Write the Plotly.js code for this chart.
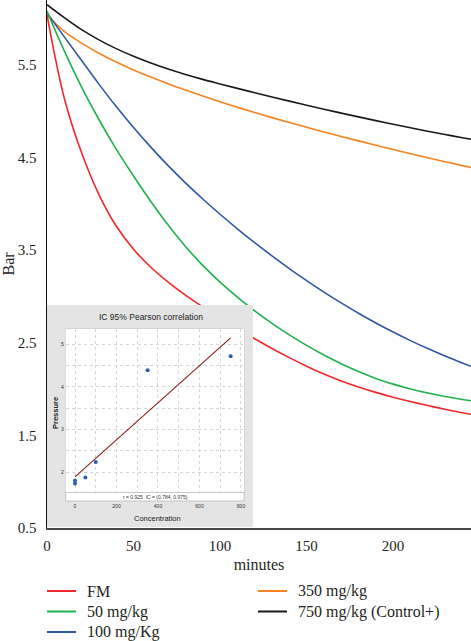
<!DOCTYPE html>
<html>
<head>
<meta charset="utf-8">
<script src="https://cdn.plot.ly/plotly-3.0.1.min.js"></script>
<style>
  html, body { margin: 0; padding: 0; background: #fff; }
  #chart { width: 471px; height: 641px; }
</style>
</head>
<body>
<div id="chart"></div>
<script>
// Pressure decay over time for each treatment group
const minutes = [0, 10, 20, 30, 40, 50, 60, 70, 80, 90, 100, 110, 120, 130, 140, 150, 160, 170, 180, 190, 200, 210, 220, 230, 240, 245];
const seriesNames = ['FM', '50 mg/kg', '100 mg/Kg', '350 mg/kg', '750 mg/kg (Control+)'];
const fm    = [6.04, 5.14, 4.55, 4.10, 3.76, 3.51, 3.315, 3.155, 3.015, 2.888, 2.768, 2.653, 2.543, 2.438, 2.339, 2.247, 2.162, 2.087, 2.022, 1.964, 1.912, 1.865, 1.822, 1.782, 1.745, 1.728];
const mg50  = [6.08, 5.65, 5.26, 4.91, 4.59, 4.30, 4.025, 3.77, 3.54, 3.335, 3.155, 2.992, 2.844, 2.709, 2.585, 2.471, 2.367, 2.273, 2.189, 2.115, 2.053, 2.001, 1.957, 1.92, 1.888, 1.873];
const mg100 = [6.06, 5.802, 5.546, 5.292, 5.05, 4.824, 4.612, 4.412, 4.226, 4.052, 3.887, 3.73, 3.58, 3.437, 3.301, 3.171, 3.047, 2.93, 2.818, 2.713, 2.615, 2.523, 2.437, 2.357, 2.282, 2.246];
const mg350 = [6.04, 5.86, 5.735, 5.625, 5.53, 5.445, 5.368, 5.296, 5.228, 5.163, 5.101, 5.042, 4.985, 4.93, 4.877, 4.826, 4.776, 4.727, 4.679, 4.632, 4.586, 4.541, 4.497, 4.454, 4.412, 4.391];
const mg750 = [6.15, 6.01, 5.88, 5.77, 5.675, 5.592, 5.519, 5.454, 5.396, 5.343, 5.294, 5.246, 5.199, 5.153, 5.108, 5.064, 5.021, 4.979, 4.938, 4.898, 4.859, 4.821, 4.784, 4.748, 4.713, 4.696];

const yTicks = [0.5, 1.5, 2.5, 3.5, 4.5, 5.5];
const xTicks = [0, 50, 100, 150, 200];

// Final pressure against concentration (Pearson correlation panel)
const concentration = [0, 0, 50, 100, 350, 750];
const pressure      = [1.74, 1.81, 1.88, 2.24, 4.39, 4.72];
const insetXTicks = [0, 200, 400, 600, 800];
const insetYTicks = [2, 3, 4, 5];

// least-squares fit line for the correlation panel
function linearFit(xs, ys) {
  const n = xs.length;
  const mx = xs.reduce((a, b) => a + b, 0) / n;
  const my = ys.reduce((a, b) => a + b, 0) / n;
  let sxy = 0, sxx = 0;
  for (let i = 0; i < n; i++) { sxy += (xs[i] - mx) * (ys[i] - my); sxx += (xs[i] - mx) ** 2; }
  const slope = sxy / sxx;
  return { slope, intercept: my - slope * mx };
}
const fit = linearFit(concentration, pressure);
const fitX = [Math.min(...concentration), Math.max(...concentration)];
const fitY = fitX.map(x => fit.intercept + fit.slope * x);

const serif = 'Liberation Serif, Times New Roman, serif';
const sans = 'Liberation Sans, Arial, sans-serif';
const colors = ['#f0282d', '#1fb14f', '#2f57a5', '#f7821f', '#1a1a1a'];
const values = [fm, mg50, mg100, mg350, mg750];

// paper coordinates measured from the main plot area (424 x 528 px, origin bottom-left at 47,528)
const px = v => (v - 47) / 424;
const py = v => (528 - v) / 528;

const traces = [];
// draw order: control first so treated curves sit above it
[4, 3, 2, 1, 0].forEach(i => {
  traces.push({
    x: minutes, y: values[i], name: seriesNames[i], type: 'scatter', mode: 'lines',
    line: { color: colors[i], width: 1.6, shape: 'spline', smoothing: 1 },
    showlegend: false, xaxis: 'x', yaxis: 'y', hoverinfo: 'skip'
  });
});

// panel backdrop (x2/y2 use a unit box spanning the inset frame)
const frame = { x0: 0, x1: 1, y0: 0, y1: 1 };
const plotBox = { x0: 0.0908, x1: 0.9563, y0: 0.117, y1: 0.892 };
const footerLine = 0.1577;
traces.push({
  x: [frame.x0, frame.x1, frame.x1, frame.x0, frame.x0],
  y: [frame.y0, frame.y0, frame.y1, frame.y1, frame.y0],
  type: 'scatter', mode: 'lines', fill: 'toself', fillcolor: '#e4e4e4',
  line: { width: 0, color: '#e4e4e4' }, showlegend: false, hoverinfo: 'skip',
  xaxis: 'x2', yaxis: 'y2'
});
traces.push({
  x: [plotBox.x0, plotBox.x1, plotBox.x1, plotBox.x0, plotBox.x0],
  y: [plotBox.y0, plotBox.y0, plotBox.y1, plotBox.y1, plotBox.y0],
  type: 'scatter', mode: 'lines', fill: 'toself', fillcolor: '#ffffff',
  line: { width: 1, color: '#c4c4c4' }, showlegend: false, hoverinfo: 'skip',
  xaxis: 'x2', yaxis: 'y2'
});
traces.push({
  x: [plotBox.x0, plotBox.x1], y: [footerLine, footerLine],
  type: 'scatter', mode: 'lines', line: { width: 1, color: '#8c8c8c' },
  showlegend: false, hoverinfo: 'skip', xaxis: 'x2', yaxis: 'y2'
});

// correlation panel data
traces.push({
  x: fitX, y: fitY, type: 'scatter', mode: 'lines',
  line: { color: '#8e1b1b', width: 1.1 }, showlegend: false, hoverinfo: 'skip',
  xaxis: 'x3', yaxis: 'y3'
});
traces.push({
  x: concentration, y: pressure, type: 'scatter', mode: 'markers',
  marker: { color: '#2d5fae', size: 4 }, showlegend: false, hoverinfo: 'skip',
  xaxis: 'x3', yaxis: 'y3'
});

// legend: two columns, entries filled top-to-bottom
const legendCols = [47, 258];
const legendRows = [591, 611.5, 632];
const legendSlots = [[0, 0], [0, 1], [0, 2], [1, 0], [1, 1]];
const legendShapes = [];
const legendNotes = [];
seriesNames.forEach((name, i) => {
  const [c, r] = legendSlots[i];
  const x0 = legendCols[c], yy = legendRows[r];
  legendShapes.push({
    type: 'line', xref: 'paper', yref: 'paper',
    x0: px(x0), x1: px(x0 + 29), y0: py(yy), y1: py(yy),
    line: { color: colors[i], width: 2 }
  });
  legendNotes.push({
    text: name, xref: 'paper', yref: 'paper', x: px(x0 + 38), y: py(yy),
    xanchor: 'left', yanchor: 'middle', showarrow: false,
    font: { family: serif, size: 16, color: '#231f20' }
  });
});

const layout = {
  width: 471, height: 641,
  margin: { l: 47, r: 0, t: 0, b: 113, pad: 0 },
  paper_bgcolor: '#ffffff', plot_bgcolor: '#ffffff',
  font: { family: serif, color: '#231f20' },
  showlegend: false,
  xaxis: {
    domain: [0, 1], range: [0, 245], tickvals: xTicks, ticks: '',
    showgrid: false, zeroline: false, showline: true, linecolor: '#4a4a4a', linewidth: 2,
    tickfont: { family: serif, size: 15, color: '#231f20' }, ticklabelstandoff: 3,
    title: { text: 'minutes', font: { family: serif, size: 16, color: '#231f20' }, standoff: 6 },
    fixedrange: true
  },
  yaxis: {
    domain: [0, 1], range: [0.5, 6.2], tickvals: yTicks, ticktext: yTicks.map(v => v.toFixed(1)), ticks: '',
    showgrid: false, zeroline: false, showline: true, linecolor: '#111111', linewidth: 1.5,
    tickfont: { family: serif, size: 15, color: '#231f20' }, ticklabelstandoff: 6,
    title: { text: 'Bar', font: { family: serif, size: 16, color: '#231f20' }, standoff: 4 },
    fixedrange: true
  },
  xaxis2: { domain: [px(47), px(253)], range: [0, 1], visible: false, fixedrange: true, anchor: 'y2' },
  yaxis2: { domain: [py(527), py(305)], range: [0, 1], visible: false, fixedrange: true, anchor: 'x2' },
  xaxis3: {
    domain: [px(65.7), px(244)], range: [-44.8, 814.5], anchor: 'y3',
    tickvals: insetXTicks, ticks: '', showline: false, zeroline: false,
    showgrid: true, gridcolor: '#d6d6d6', griddash: 'dot', gridwidth: 1,
    minor: { dtick: 100, tick0: 0, showgrid: true, gridcolor: '#d6d6d6', griddash: 'dot', gridwidth: 1 },
    tickfont: { family: sans, size: 5, color: '#333333' }, ticklabelstandoff: 10,
    fixedrange: true
  },
  yaxis3: {
    domain: [py(492), py(329)], range: [1.539, 5.358], anchor: 'x3',
    tickvals: insetYTicks, ticks: '', showline: false, zeroline: false,
    showgrid: true, gridcolor: '#d6d6d6', griddash: 'dot', gridwidth: 1,
    minor: { dtick: 0.5, tick0: 0, showgrid: true, gridcolor: '#d6d6d6', griddash: 'dot', gridwidth: 1 },
    tickfont: { family: sans, size: 5, color: '#333333' }, ticklabelstandoff: 1,
    fixedrange: true
  },
  shapes: legendShapes,
  annotations: [
    { text: 'IC 95% Pearson correlation', x: px(151), y: py(317), xref: 'paper', yref: 'paper',
      showarrow: false, xanchor: 'center', yanchor: 'middle',
      font: { family: sans, size: 8.5, color: '#222222' } },
    { text: 'Pressure', x: px(55), y: py(413), xref: 'paper', yref: 'paper', textangle: -90,
      showarrow: false, xanchor: 'center', yanchor: 'middle',
      font: { family: sans, size: 7.5, color: '#222222', weight: 'bold' } },
    { text: 'Concentration', x: px(157.5), y: py(518), xref: 'paper', yref: 'paper',
      showarrow: false, xanchor: 'center', yanchor: 'middle',
      font: { family: sans, size: 7.5, color: '#222222' } },
    { text: 'r = 0.925  IC = (0.784, 0.975)', x: px(155), y: py(496.5), xref: 'paper', yref: 'paper',
      showarrow: false, xanchor: 'center', yanchor: 'middle',
      font: { family: sans, size: 5, color: '#333333' } }
  ].concat(legendNotes)
};

Plotly.newPlot('chart', traces, layout, { staticPlot: true, displayModeBar: false });
</script>
</body>
</html>
